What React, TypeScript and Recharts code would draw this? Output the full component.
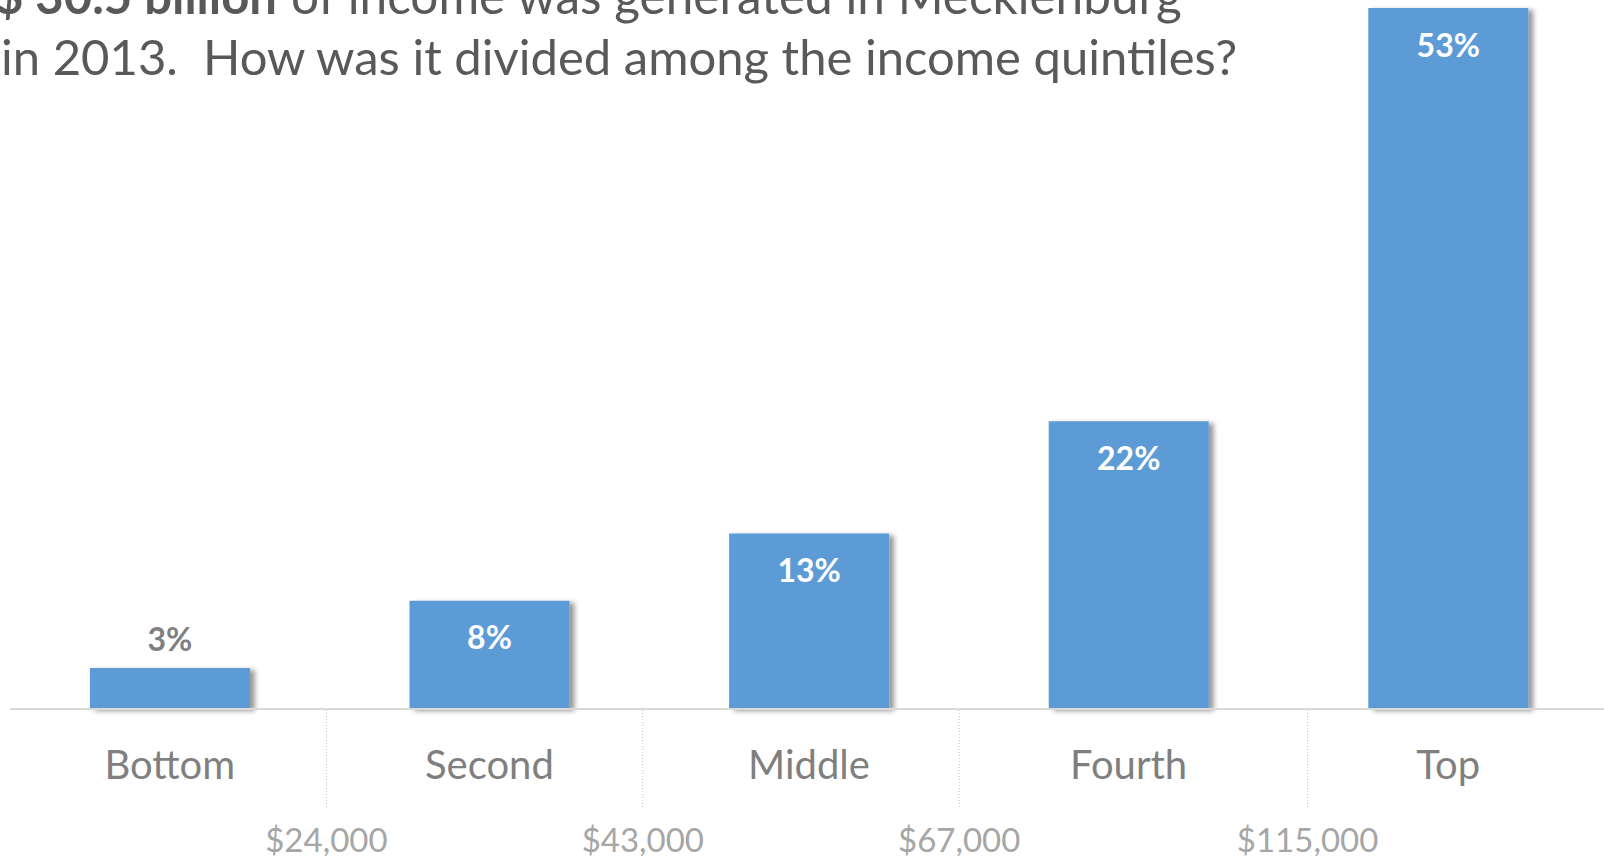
import React from 'react'
import { BarChart, Bar, XAxis, YAxis, LabelList, Rectangle } from 'recharts'

// income share by quintile, Mecklenburg 2013
const categories = ['Bottom', 'Second', 'Middle', 'Fourth', 'Top']
const shares = [3.1, 8.2, 13.3, 21.8, 53.1]
const shareLabels = ['3%', '8%', '13%', '22%', '53%']

// quintile upper bounds, placed between categories (in band units, 0..5)
const boundaryPositions = [0.99, 1.98, 2.97, 4.06]
const boundaryLabels = ['$24,000', '$43,000', '$67,000', '$115,000']

const FONT = 'Lato, "Noto Sans", sans-serif'

// center = band centre in band units, so the bounds axis has a numeric key
const chartData = categories.map((name, i) => ({ name, center: i + 0.5, share: shares[i], label: shareLabels[i] }))

function CategoryTick(props: any) {
  const { x, y, payload } = props
  return (
    <text x={x} y={y + 70} textAnchor="middle" fill="#7f7f7f" fontSize={40} fontFamily={FONT}>
      {payload.value}
    </text>
  )
}

function BoundaryTick(props: any) {
  const { x, y, index } = props
  return (
    <g>
      <line x1={x} x2={x} y1={y} y2={y + 97} stroke="#bfbfbf" strokeWidth={1} strokeDasharray="1 2" />
      <text x={x} y={y + 142} textAnchor="middle" fill="#a6a6a6" fontSize={33} fontFamily={FONT}>
        {boundaryLabels[index]}
      </text>
    </g>
  )
}

function ShareLabel(props: any) {
  const { x, y, width, value, index } = props
  const small = shares[index] < 5
  return (
    <text
      x={x + width / 2}
      y={small ? y - 29 : y + 37}
      dy="0.36em"
      textAnchor="middle"
      fill={small ? '#7f7f7f' : '#ffffff'}
      fontSize={32}
      fontWeight="bold"
      fontFamily={FONT}
    >
      {value}
    </text>
  )
}

export default function App() {
  return (
    <div style={{ position: 'absolute', left: 0, top: 0, width: 1604, height: 860, overflow: 'hidden', background: '#fff' }}>
      <svg width={0} height={0} style={{ position: 'absolute' }}>
        <defs>
          <filter id="barShadow" x="-10%" y="-10%" width="130%" height="130%">
            <feDropShadow dx="5" dy="2" stdDeviation="2.5" floodColor="#000" floodOpacity="0.4" />
          </filter>
        </defs>
      </svg>

      <svg width={1604} height={100} style={{ position: 'absolute', left: 0, top: 0, zIndex: 2 }}>
        <text x={277} y={14} textAnchor="end" fill="#595959" fontSize={49} fontWeight="bold" fontFamily={FONT}>
          $ 30.5 billion
        </text>
        <text x={291} y={14} fill="#595959" fontSize={49.5} fontFamily={FONT}>
          of income was generated in Mecklenburg
        </text>
        <text x={1} y={75} fill="#595959" fontSize={49} fontFamily={FONT} xmlSpace="preserve">
          in 2013.  How was it divided among the income quintiles?
        </text>
      </svg>

      <BarChart
        width={1604}
        height={860}
        data={chartData}
        margin={{ top: 8, right: -4, bottom: 0, left: 10 }}
        barCategoryGap="25%"
      >
        <XAxis
          dataKey="name"
          height={1}
          axisLine={{ stroke: '#d9d9d9', strokeWidth: 2 }}
          tickLine={false}
          tickSize={0}
          tickMargin={0}
          tick={<CategoryTick />}
          interval={0}
        />
        <XAxis
          xAxisId="bounds"
          dataKey="center"
          type="number"
          domain={[0, categories.length]}
          ticks={boundaryPositions}
          height={150}
          axisLine={false}
          tickLine={false}
          tickSize={0}
          tickMargin={0}
          tick={<BoundaryTick />}
          interval={0}
          allowDataOverflow
        />
        <YAxis hide domain={[0, 53.1]} />
        <Bar
          dataKey="share"
          fill="#5b9bd5"
          isAnimationActive={false}
          shape={(p: any) => <Rectangle {...p} filter="url(#barShadow)" />}
        >
          <LabelList dataKey="label" content={<ShareLabel />} />
        </Bar>
      </BarChart>
    </div>
  )
}
